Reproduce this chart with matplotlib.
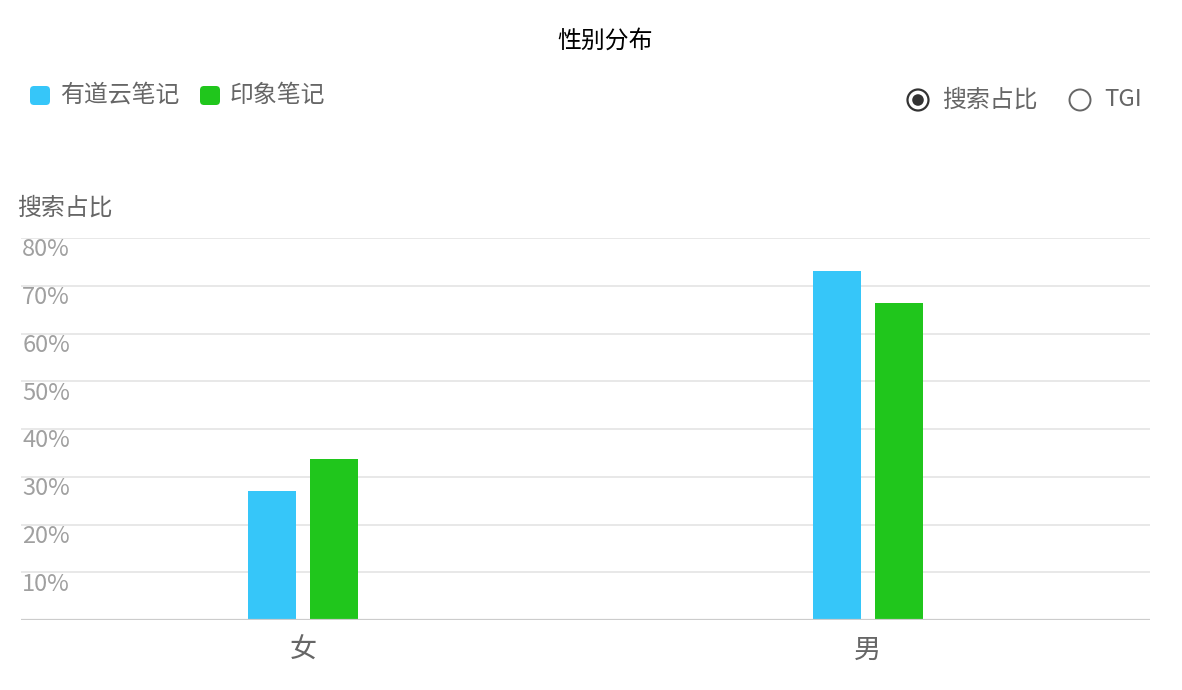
import matplotlib
matplotlib.use('Agg')
import matplotlib.pyplot as plt
from matplotlib.patches import FancyBboxPatch, Circle
import numpy as np

plt.rcParams['font.family'] = ['Noto Sans CJK SC', 'DejaVu Sans']

# данные
categories = ['女', '男']
series_names = ['有道云笔记', '印象笔记']
youdao = [27.0, 73.1]
yinxiang = [33.7, 66.4]
yticks = [10, 20, 30, 40, 50, 60, 70, 80]
colors = ['#36c6f9', '#20c61c']

W, H = 1182, 690
fig = plt.figure(figsize=(W / 100, H / 100), dpi=100)

# область графика (в пикселях: x 21..1150, y 238..620)
left, right, top, bottom = 21, 1150, 238, 620
ax = fig.add_axes([left / W, (H - bottom) / H, (right - left) / W, (bottom - top) / H])

x = np.arange(len(categories))
bw = 0.085
off = 0.055
ax.bar(x - off, youdao, bw, color=colors[0], zorder=3)
ax.bar(x + off, yinxiang, bw, color=colors[1], zorder=3)

ax.set_xlim(-0.5, 1.5)
ax.set_ylim(0, 80)
for v in yticks:
    ax.axhline(v, color='#e6e6e6', lw=1.3, zorder=1)
    ax.text(0.001, v - 2.5, f'{v}%', transform=ax.get_yaxis_transform(),
            ha='left', va='center', fontsize=17, color='#a0a0a0')
ax.axhline(0, color='#cccccc', lw=1.6, zorder=4)

ax.set_yticks([])
ax.set_xticks(x)
ax.set_xticklabels(categories, fontsize=19.5, color='#666666')
ax.tick_params(axis='x', length=0, pad=12)
for s in ax.spines.values():
    s.set_visible(False)

# заголовок и подпись оси
fig.text(605 / W, (H - 41) / H, '性别分布', ha='center', va='center', fontsize=17.2, color='#000000')
fig.text(17 / W, (H - 208) / H, '搜索占比', ha='left', va='center', fontsize=17.2, color='#666666')

# легенда
tr = fig.dpi_scale_trans
legend_x = [30, 200]
for i in range(len(series_names)):
    lx = legend_x[i]
    fig.patches.append(FancyBboxPatch(((lx + 2) / 100, (H - 103) / 100), 0.16, 0.15,
                                      boxstyle='round,pad=0.02,rounding_size=0.04',
                                      transform=tr, facecolor=colors[i], edgecolor='none'))
    fig.text((lx + 30) / W, (H - 95) / H, series_names[i], ha='left', va='center',
             fontsize=17.2, color='#666666')

# переключатель
fig.patches.append(Circle((918 / 100, (H - 100) / 100), 0.105, transform=tr,
                          facecolor='white', edgecolor='#333333', lw=1.6))
fig.patches.append(Circle((918 / 100, (H - 100) / 100), 0.058, transform=tr,
                          facecolor='#333333', edgecolor='none'))
fig.text(942 / W, (H - 100) / H, '搜索占比', ha='left', va='center', fontsize=17.2, color='#666666')
fig.patches.append(Circle((1080 / 100, (H - 100) / 100), 0.105, transform=tr,
                          facecolor='white', edgecolor='#666666', lw=1.4))
fig.text(1104 / W, (H - 100) / H, 'TGI', ha='left', va='center', fontsize=17.2, color='#666666')

fig.savefig('out.png', dpi=100)
